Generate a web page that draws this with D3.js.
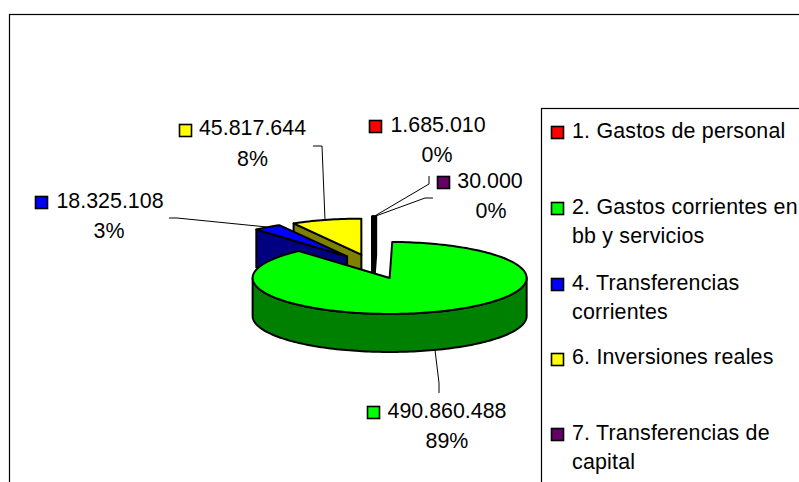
<!DOCTYPE html>
<html>
<head>
<meta charset="utf-8">
<script src="https://cdn.jsdelivr.net/npm/d3@7"></script>
<style>
html, body { margin: 0; padding: 0; background: #fff; }
svg { display: block; }
text { font-family: "Liberation Sans", Arial, sans-serif; font-size: 21.4px; fill: #000; }
</style>
</head>
<body>
<svg width="799" height="482"></svg>
<script>
var categories = ["1. Gastos de personal", "2. Gastos corrientes en bb y servicios", "4. Transferencias corrientes", "6. Inversiones reales", "7. Transferencias de capital"];
var values = [1685010, 490860488, 18325108, 45817644, 30000];
var valueLabels = ["1.685.010", "490.860.488", "18.325.108", "45.817.644", "30.000"];
var percentLabels = ["0%", "89%", "3%", "8%", "0%"];
var topColors = ["#ff0000", "#00ff00", "#0000ff", "#ffff00", "#660066"];
var sideColors = ["#800000", "#008000", "#000080", "#808000", "#330033"];
var legendLines = [["1. Gastos de personal"], ["2. Gastos corrientes en", "bb y servicios"], ["4. Transferencias", "corrientes"], ["6. Inversiones reales"], ["7. Transferencias de", "capital"]];

var svg = d3.select("svg");

// pie geometry
var cx = 372.6, cy = 265.8, rx = 137, ry = 36, depth = 38;
var explode = [0.36, 0.36, 0.32, 0.32, 0.36];

svg.append("rect").attr("x", 9.5).attr("y", 14.5).attr("width", 800).attr("height", 480)
    .attr("fill", "#fff").attr("stroke", "#000").attr("stroke-width", 1.2);

var pie = d3.pie().sort(null).value(function(d) { return d; });
var slices = pie(values).map(function(s, i) {
    var mid = (s.startAngle + s.endAngle) / 2;
    return {
        i: i,
        a0: s.startAngle,
        a1: s.endAngle,
        ox: cx + explode[i] * rx * Math.sin(mid),
        oy: cy - explode[i] * ry * Math.cos(mid)
    };
});

function pt(s, a, dy) {
    return [s.ox + rx * Math.sin(a), s.oy - ry * Math.cos(a) + (dy || 0)];
}
function arcPts(s, a0, a1, dy) {
    var n = Math.max(2, Math.ceil((a1 - a0) * 40)), out = [];
    d3.range(n + 1).forEach(function(k) { out.push(pt(s, a0 + (a1 - a0) * k / n, dy)); });
    return out;
}
var line = d3.line();
function draw(pts, fill, sw) {
    svg.append("path").attr("d", line(pts) + "Z").attr("fill", fill)
        .attr("stroke", "#000").attr("stroke-width", sw).attr("stroke-linejoin", "round");
}

// back slices first, green last
[4, 0, 3, 2, 1].forEach(function(i) {
    var s = slices[i], apex = [s.ox, s.oy], apexLow = [s.ox, s.oy + depth];
    // the thin slices come out as solid black in the reference
    var sw = (s.a1 - s.a0 < 0.05) ? 3 : 2;
    if (s.a0 > Math.PI) {
        draw([apex, pt(s, s.a0), pt(s, s.a0, depth), apexLow], sideColors[i], sw);
    }
    if (s.a1 < Math.PI) {
        draw([apex, pt(s, s.a1), pt(s, s.a1, depth), apexLow], sideColors[i], sw);
    }
    var w0 = Math.max(s.a0, Math.PI / 2), w1 = Math.min(s.a1, Math.PI * 1.5);
    if (w1 > w0) {
        draw(arcPts(s, w0, w1, 0).concat(arcPts(s, w0, w1, depth).reverse()), sideColors[i], sw);
    }
    draw([apex].concat(arcPts(s, s.a0, s.a1, 0)), topColors[i], sw);
});

// leader lines
var leaders = [
    [[373, 217], [429, 184], [429, 176]],
    [[435, 350], [439, 383], [439, 393]],
    [[169, 218], [177, 218], [267, 227]],
    [[313, 146], [322, 146], [325, 220]],
    [[373, 217], [425, 198], [433, 198]]
];
leaders.forEach(function(l) {
    svg.append("path").attr("d", line(l)).attr("fill", "none").attr("stroke", "#000").attr("stroke-width", 1);
});

// data labels
var labelX = [438, 447, 110, 252.5, 490];
var labelY = [132, 418, 208, 135, 188];
var percentX = [437, 447, 109, 252.5, 491];
var percentY = [162, 448, 238, 166, 218];
var markerX = [369.5, 367.5, 35.5, 179.5, 437.5];
var markerY = [120.5, 406.5, 196.5, 124.5, 176.5];
values.forEach(function(v, i) {
    svg.append("text").attr("x", labelX[i]).attr("y", labelY[i]).attr("text-anchor", "middle").text(valueLabels[i]);
    svg.append("text").attr("x", percentX[i]).attr("y", percentY[i]).attr("text-anchor", "middle").text(percentLabels[i]);
    svg.append("rect").attr("x", markerX[i]).attr("y", markerY[i]).attr("width", 12).attr("height", 12)
        .attr("fill", topColors[i]).attr("stroke", "#000").attr("stroke-width", 1.6);
});

// legend
svg.append("rect").attr("x", 541.5).attr("y", 108.5).attr("width", 300).attr("height", 400)
    .attr("fill", "#fff").attr("stroke", "#000").attr("stroke-width", 1.2);
var legendBoxY = [126.5, 202.5, 278.5, 353.5, 428.5];
var legendBaseline = [138, 214, 290, 364, 440];
legendLines.forEach(function(ls, i) {
    svg.append("rect").attr("x", 551.5).attr("y", legendBoxY[i]).attr("width", 12).attr("height", 12)
        .attr("fill", topColors[i]).attr("stroke", "#000").attr("stroke-width", 1.6);
    ls.forEach(function(t, k) {
        svg.append("text").attr("x", 572).attr("y", legendBaseline[i] + k * 28.5)
            .style("letter-spacing", "0.2px").text(t);
    });
});
</script>
</body>
</html>
